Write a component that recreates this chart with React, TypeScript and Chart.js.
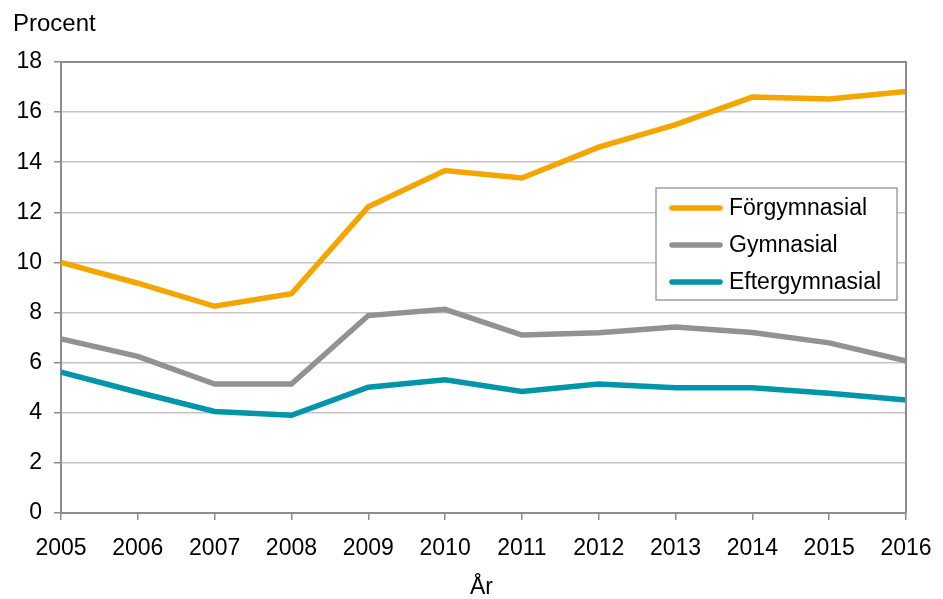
import React, { useEffect, useRef } from "react";
import { Chart, registerables } from "chart.js";

Chart.register(...registerables);

const years = ["2005", "2006", "2007", "2008", "2009", "2010", "2011", "2012", "2013", "2014", "2015", "2016"];
const forgymnasial = [10.0, 9.17, 8.25, 8.75, 12.22, 13.67, 13.37, 14.6, 15.5, 16.6, 16.52, 16.82];
const gymnasial = [6.95, 6.25, 5.15, 5.15, 7.88, 8.13, 7.1, 7.19, 7.42, 7.2, 6.79, 6.07];
const eftergymnasial = [5.62, 4.82, 4.05, 3.9, 5.02, 5.32, 4.85, 5.15, 5.0, 5.0, 4.78, 4.51];
const seriesNames = ["Förgymnasial", "Gymnasial", "Eftergymnasial"];
const seriesColors = ["#F5A500", "#929292", "#0095A9"];
const yTitle = "Procent";
const xTitle = "År";

const FONT = "'Liberation Sans', Arial, sans-serif";

const overlayPlugin = {
  id: "overlay",
  afterDraw(chart: any) {
    const ctx = chart.ctx;
    const a = chart.chartArea;
    ctx.save();
    // frame top/right
    ctx.strokeStyle = "#8C8C8C";
    ctx.lineWidth = 2;
    ctx.beginPath();
    ctx.moveTo(a.left, a.top);
    ctx.lineTo(a.right, a.top);
    ctx.lineTo(a.right, a.bottom);
    ctx.stroke();
    // titles
    ctx.fillStyle = "#000";
    ctx.font = `24px ${FONT}`;
    ctx.textBaseline = "alphabetic";
    ctx.textAlign = "left";
    ctx.fillText(yTitle, 13, 31);
    ctx.font = `23px ${FONT}`;
    ctx.textAlign = "center";
    ctx.fillText(xTitle, (a.left + a.right) / 2 - 2, 594);
    // legend
    const bx = 656, by = 188, bw = 241, bh = 112;
    ctx.fillStyle = "#fff";
    ctx.fillRect(bx, by, bw, bh);
    ctx.strokeStyle = "#A0A0A0";
    ctx.lineWidth = 1.5;
    ctx.strokeRect(bx, by, bw, bh);
    chart.data.datasets.forEach((ds: any, i: number) => {
      const cy = 208 + i * 37;
      ctx.strokeStyle = ds.borderColor;
      ctx.lineWidth = 5.5;
      ctx.lineCap = "round";
      ctx.beginPath();
      ctx.moveTo(672, cy);
      ctx.lineTo(720, cy);
      ctx.stroke();
      ctx.fillStyle = "#000";
      ctx.textAlign = "left";
      ctx.textBaseline = "middle";
      ctx.font = `23px ${FONT}`;
      ctx.fillText(ds.label, 729, cy + 1);
    });
    ctx.restore();
  },
};

export default function App() {
  const ref = useRef<HTMLCanvasElement>(null);
  useEffect(() => {
    document.body.style.margin = "0";
    const chart = new Chart(ref.current!, {
      type: "line",
      data: {
        labels: years,
        datasets: [forgymnasial, gymnasial, eftergymnasial].map((d, i) => ({
          label: seriesNames[i],
          data: d,
          borderColor: seriesColors[i],
          backgroundColor: seriesColors[i],
          borderWidth: 5.5,
          pointRadius: 0,
          tension: 0,
          fill: false,
        })),
      },
      options: {
        responsive: false,
        animation: false,
        layout: { padding: { top: 62, right: 37, left: 0, bottom: 0 } },
        plugins: { legend: { display: false }, tooltip: { enabled: false } },
        scales: {
          x: {
            offset: false,
            afterFit: (s: any) => { s.height = 86; s.paddingLeft = 0; s.paddingRight = 0; },
            grid: { drawOnChartArea: false, drawTicks: true, tickLength: 7, color: "#8C8C8C", lineWidth: 1.5 },
            border: { color: "#8C8C8C", width: 2 },
            ticks: { color: "#000", font: { family: FONT, size: 23 }, padding: 15, maxRotation: 0, autoSkip: false },
          },
          y: {
            min: 0,
            max: 18,
            afterFit: (s: any) => { s.width = 61; s.paddingTop = 0; s.paddingBottom = 0; },
            grid: { color: "#C4C4C4", lineWidth: 1.5, tickLength: 7, tickColor: "#8C8C8C" },
            border: { color: "#8C8C8C", width: 2 },
            ticks: { stepSize: 2, color: "#000", font: { family: FONT, size: 23 }, padding: 12 },
          },
        },
      },
      plugins: [overlayPlugin],
    });
    return () => chart.destroy();
  }, []);
  return <canvas ref={ref} width={943} height={599} style={{ display: "block" }} />;
}
